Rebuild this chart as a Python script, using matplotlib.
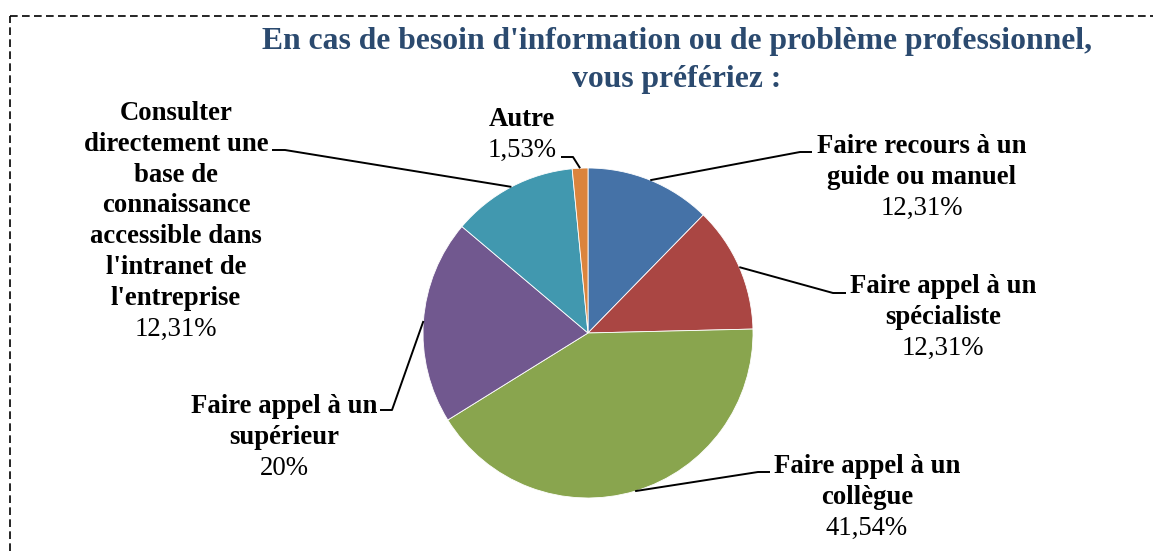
import numpy as np
import matplotlib
matplotlib.use("Agg")
import matplotlib.pyplot as plt
from matplotlib.lines import Line2D

# Données
titre = "En cas de besoin d'information ou de problème professionnel,\nvous préfériez :"
categories = [
    "Faire recours à un\nguide ou manuel",
    "Faire appel à un\nspécialiste",
    "Faire appel à un\ncollègue",
    "Faire appel à un\nsupérieur",
    "Consulter\ndirectement une\nbase de\nconnaissance\naccessible dans\nl'intranet de\nl'entreprise",
    "Autre",
]
valeurs = [12.31, 12.31, 41.54, 20, 12.31, 1.53]
couleurs = ["#4572A7", "#AA4643", "#89A54E", "#71588F", "#4198AF", "#DB843D"]

# Mise en page (coordonnées pixel, y depuis le haut)
W, H = 1153, 551
centre = (588, 333)
rayon = 165
# (x centre du texte, y ligne de base 1re ligne, coude, extrémité)
etiquettes = [
    (922, 153, (800, 152), (812, 152)),
    (943, 293, (833, 293), (846, 293)),
    (867, 473, (758, 472), (770, 472)),
    (284, 413, (392, 410), (380, 410)),
    (176, 120, (285, 150), (272, 150)),
    (522, 126, (573, 157), (561, 157)),
]
interligne = 30.8

plt.rcParams['font.family'] = ['Liberation Serif', 'DejaVu Serif']


def Y(y):
    return H - y


def fmt(v):
    return f"{v:g}".replace('.', ',') + '%'


fig = plt.figure(figsize=(W / 100, H / 100), dpi=100)
ax = fig.add_axes([0, 0, 1, 1])

wedges, _ = ax.pie(valeurs, colors=couleurs, startangle=90, counterclock=False,
                   center=(centre[0], Y(centre[1])), radius=rayon,
                   wedgeprops=dict(edgecolor='white', linewidth=0.6))

ax.set_xlim(0, W)
ax.set_ylim(0, H)
ax.set_aspect('equal')
ax.axis('off')

for w, lab, val, (tx, ty, coude, fin) in zip(wedges, categories, valeurs, etiquettes):
    th = np.deg2rad((w.theta1 + w.theta2) / 2)
    ax0 = centre[0] + rayon * np.cos(th)
    ay0 = Y(centre[1]) + rayon * np.sin(th)
    ax.plot([ax0, coude[0], fin[0]], [ay0, Y(coude[1]), Y(fin[1])],
            color='black', lw=1.4, solid_capstyle='butt')
    lignes = lab.split('\n')
    for i, l in enumerate(lignes):
        ax.text(tx, Y(ty + i * interligne), l, ha='center', va='baseline',
                fontsize=19.3, fontweight='bold', color='black')
    ax.text(tx, Y(ty + len(lignes) * interligne), fmt(val), ha='center',
            va='baseline', fontsize=19.3, color='black')

for i, l in enumerate(titre.split('\n')):
    ax.text(677, Y(49 + i * 38), l, ha='center', va='baseline',
            fontsize=22.8, fontweight='bold', color='#2B4A6F')

# Cadre pointillé
bx, by = 10.5 / W, 1 - 15.5 / H
fig.add_artist(Line2D([bx, 1], [by, by], transform=fig.transFigure,
                      color='black', lw=1.2, linestyle=(0, (4.6, 2.6))))
fig.add_artist(Line2D([bx, bx], [0, by], transform=fig.transFigure,
                      color='black', lw=1.2, linestyle=(0, (4.6, 2.6))))

fig.savefig("out.png", dpi=100)
